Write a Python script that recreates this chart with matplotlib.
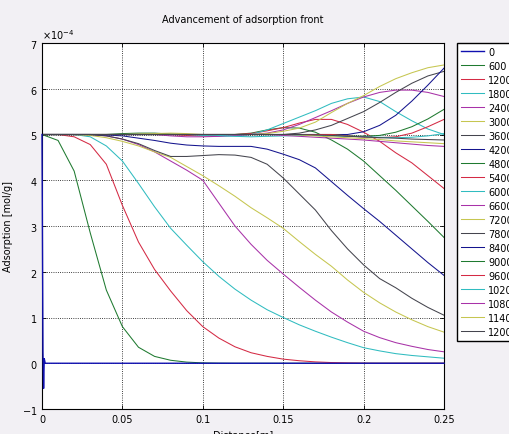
import numpy as np
import matplotlib
matplotlib.use("Agg")
import matplotlib.pyplot as plt
from matplotlib.ticker import FormatStrFormatter, ScalarFormatter

plt.rcParams.update({"font.family": "DejaVu Sans", "font.size": 7,
                     "axes.unicode_minus": False})

# distance along the column [m]
x = [0.00, 0.01, 0.02, 0.03, 0.04, 0.05, 0.06, 0.07, 0.08, 0.09, 0.10, 0.11, 0.12,
     0.13, 0.14, 0.15, 0.16, 0.17, 0.18, 0.19, 0.20, 0.21, 0.22, 0.23, 0.24, 0.25]

# time 0 has its own fine grid near the inlet
x0 = [0.0, 0.0006, 0.0010, 0.0014, 0.002, 0.25]
q0 = [5.0, 0.25, -0.55, 0.1, 0.0, 0.0]

# adsorption profiles in units of 1e-4 mol/g
q600 = [5.0, 4.87, 4.2, 2.85, 1.6, 0.8, 0.35, 0.15, 0.065, 0.025, 0.008, 0.002, 0,
        0, 0, 0, 0, 0, 0, 0, 0, 0, 0, 0, 0, 0]
q1200 = [5.0, 5.0, 4.95, 4.78, 4.35, 3.45, 2.65, 2.05, 1.58, 1.15, 0.8, 0.55, 0.36,
         0.23, 0.15, 0.09, 0.055, 0.03, 0.015, 0.007, 0.002, 0, 0, 0, 0, 0]
q1800 = [5.0, 5.0, 5.0, 4.95, 4.75, 4.42, 3.93, 3.42, 2.95, 2.58, 2.22, 1.9, 1.62,
         1.38, 1.17, 1.0, 0.84, 0.7, 0.57, 0.45, 0.34, 0.27, 0.21, 0.17, 0.14, 0.11]
q2400 = [5.0, 5.0, 5.0, 5.0, 4.97, 4.9, 4.78, 4.62, 4.42, 4.22, 4.0, 3.5, 3.0,
         2.6, 2.25, 1.95, 1.66, 1.38, 1.12, 0.9, 0.7, 0.56, 0.45, 0.37, 0.3, 0.25]
q3000 = [5.0, 5.0, 5.0, 4.98, 4.93, 4.85, 4.75, 4.62, 4.5, 4.3, 4.1, 3.88, 3.65,
         3.4, 3.18, 2.95, 2.66, 2.38, 2.12, 1.82, 1.55, 1.32, 1.12, 0.95, 0.8, 0.68]
q3600 = [5.0, 5.0, 5.0, 5.0, 4.97, 4.9, 4.8, 4.65, 4.52, 4.52, 4.54, 4.56, 4.55,
         4.5, 4.35, 4.05, 3.7, 3.35, 2.9, 2.5, 2.15, 1.85, 1.65, 1.42, 1.22, 1.05]
q4200 = [5.0, 5.0, 5.0, 5.0, 4.99, 4.97, 4.92, 4.87, 4.81, 4.77, 4.75, 4.74, 4.74,
         4.74, 4.68, 4.57, 4.45, 4.27, 3.97, 3.67, 3.38, 3.1, 2.8, 2.5, 2.2, 1.92]
q4800 = [5.0, 5.0, 5.0, 5.0, 5.0, 5.02, 5.03, 5.03, 5.01, 5.0, 5.0, 5.0, 5.0,
         5.03, 5.1, 5.15, 5.14, 5.05, 4.88, 4.68, 4.42, 4.1, 3.78, 3.44, 3.1, 2.75]
q5400 = [5.0, 5.0, 5.0, 5.0, 5.0, 5.0, 5.0, 5.0, 5.0, 4.98, 4.97, 4.98, 5.0,
         5.02, 5.08, 5.15, 5.25, 5.33, 5.33, 5.22, 5.05, 4.85, 4.6, 4.38, 4.1, 3.82]
q6000 = [5.0, 5.0, 5.0, 5.0, 5.0, 5.0, 5.0, 5.0, 5.0, 5.0, 4.98, 4.96, 4.97,
         5.0, 5.1, 5.24, 5.38, 5.52, 5.68, 5.78, 5.82, 5.72, 5.5, 5.3, 5.12, 5.0]
q6600 = [5.0, 5.0, 5.0, 5.0, 5.0, 5.0, 5.0, 5.0, 4.97, 4.95, 4.95, 4.96, 4.98,
         5.0, 5.03, 5.1, 5.22, 5.37, 5.52, 5.68, 5.82, 5.92, 5.97, 5.97, 5.92, 5.83]
q7200 = [5.0, 5.0, 5.0, 5.0, 5.0, 5.0, 5.01, 5.02, 5.03, 5.02, 5.0, 5.0, 5.0,
         5.0, 5.02, 5.07, 5.14, 5.27, 5.48, 5.68, 5.85, 6.05, 6.22, 6.35, 6.46, 6.52]
q7800 = [5.0, 5.0, 5.0, 5.0, 5.0, 5.0, 5.0, 5.0, 5.0, 5.0, 5.0, 5.0, 5.0,
         5.0, 5.0, 5.0, 5.03, 5.1, 5.2, 5.35, 5.5, 5.7, 5.92, 6.12, 6.28, 6.38]
q8400 = [5.0, 5.0, 5.0, 5.0, 5.0, 5.0, 5.0, 5.0, 5.0, 5.0, 5.0, 5.0, 5.0,
         5.0, 5.0, 5.0, 5.0, 5.0, 5.0, 5.0, 5.06, 5.2, 5.42, 5.73, 6.08, 6.45]
q9000 = [5.0, 5.0, 5.0, 5.0, 5.0, 5.0, 5.0, 5.0, 5.0, 5.0, 5.0, 5.0, 5.0,
         5.0, 5.0, 5.0, 5.0, 5.0, 5.0, 4.97, 4.96, 4.98, 5.05, 5.17, 5.34, 5.55]
q9600 = [5.0, 5.0, 5.0, 5.0, 5.0, 5.0, 5.0, 5.0, 5.0, 5.0, 5.0, 5.0, 5.0,
         5.0, 5.0, 5.0, 5.0, 5.0, 5.0, 4.97, 4.94, 4.93, 4.95, 5.03, 5.17, 5.33]
q10200 = [5.0, 5.0, 5.0, 5.0, 5.0, 5.0, 5.0, 5.0, 5.0, 5.0, 5.0, 4.98, 4.96,
          4.95, 4.96, 4.97, 4.98, 4.98, 4.97, 4.96, 4.95, 4.94, 4.93, 4.94, 4.97, 5.02]
q10800 = [5.0, 5.0, 5.0, 5.0, 5.0, 5.0, 5.0, 5.0, 5.0, 5.0, 5.0, 5.0, 5.0,
          5.0, 5.0, 4.98, 4.96, 4.94, 4.92, 4.9, 4.88, 4.85, 4.82, 4.79, 4.76, 4.74]
q11400 = [5.0, 5.0, 5.0, 5.0, 5.0, 5.0, 5.0, 5.0, 5.0, 5.0, 5.0, 5.0, 5.0,
          5.0, 5.0, 5.0, 4.99, 4.97, 4.95, 4.93, 4.91, 4.89, 4.86, 4.84, 4.82, 4.8]
q12000 = [5.0, 5.0, 5.0, 5.0, 5.0, 5.0, 5.0, 5.0, 5.0, 5.0, 5.0, 5.0, 5.0,
          5.0, 5.0, 5.0, 5.0, 4.99, 4.98, 4.96, 4.95, 4.93, 4.92, 4.9, 4.89, 4.88]

times = [0, 600, 1200, 1800, 2400, 3000, 3600, 4200, 4800, 5400, 6000, 6600,
         7200, 7800, 8400, 9000, 9600, 10200, 10800, 11400, 12000]
profiles = [q600, q1200, q1800, q2400, q3000, q3600, q4200, q4800, q5400, q6000,
            q6600, q7200, q7800, q8400, q9000, q9600, q10200, q10800, q11400, q12000]

# old MATLAB colour order, a little washed out like the original
colors = ["#14148e", "#1f7a30", "#d42a44", "#30bcc0", "#a832a8", "#c6c650", "#45454e"]

fig = plt.figure(figsize=(5.1, 4.35), dpi=100, facecolor="#f2f0f4")
ax = fig.add_axes([42 / 510, 1 - 410 / 435, 402 / 510, 366 / 435])

# the t=0 profile runs along the left spine, so draw it above the spines
ax.plot(x0, np.array(q0) * 1e-4, color="#1010b0", lw=1.0, label="0",
        clip_on=False, zorder=3)
for i, (t, q) in enumerate(zip(times[1:], profiles), start=1):
    ax.plot(x, np.array(q) * 1e-4, color=colors[i % 7], lw=0.75, label=str(t))

ax.set_xlim(0, 0.25)
ax.set_ylim(-1e-4, 7e-4)
ax.set_xticks([0, 0.05, 0.1, 0.15, 0.2, 0.25])
ax.set_yticks(np.arange(-1, 8) * 1e-4)
ax.xaxis.set_major_formatter(FormatStrFormatter("%g"))
fmt = ScalarFormatter(useMathText=True)
fmt.set_powerlimits((0, 0))
ax.yaxis.set_major_formatter(fmt)
ax.grid(True, ls=":", color="black", lw=0.6)
ax.tick_params(direction="in", length=3, width=0.6, top=True, right=True, labelsize=7)
for s in ax.spines.values():
    s.set_linewidth(0.8)

ax.set_title("Advancement of adsorption front", fontsize=7, pad=15)
ax.set_xlabel("Distance[m]", fontsize=7, labelpad=4)
ax.set_ylabel("Adsorption [mol/g]", fontsize=7, labelpad=6)

fig.legend(loc="upper left", bbox_to_anchor=(457 / 510, 1 - 44 / 435),
           borderaxespad=0, fancybox=False, edgecolor="black", framealpha=1,
           fontsize=7, handlelength=2.4, handletextpad=0.4, labelspacing=0.41,
           borderpad=0.4)

fig.savefig("out.png", dpi=100, facecolor=fig.get_facecolor())
